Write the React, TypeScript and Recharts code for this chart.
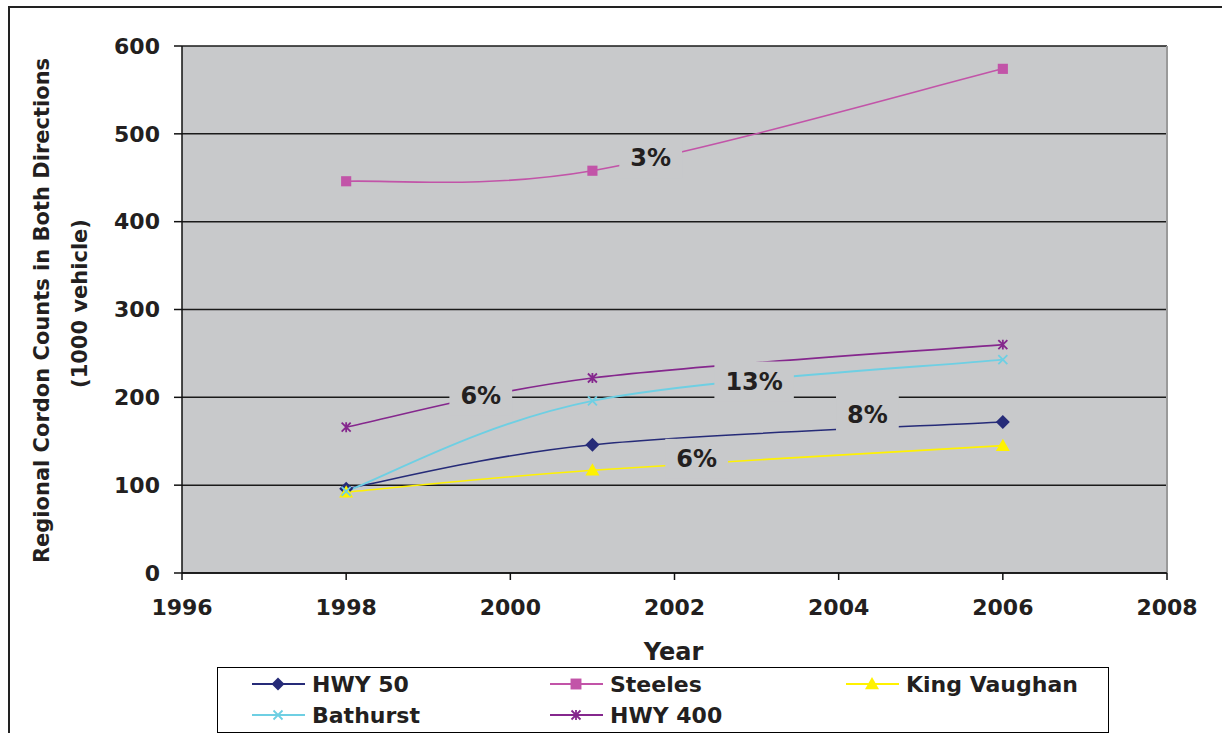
import { LineChart, Line, XAxis, YAxis, CartesianGrid, ReferenceDot, ReferenceLine, Label } from 'recharts'

const years = [1998, 2001, 2006]
const hwy50 = [96, 146, 172]
const steeles = [446, 458, 574]
const kingVaughan = [92, 117, 145]
const bathurst = [93, 196, 243]
const hwy400 = [166, 222, 260]

const xTicks = [1996, 1998, 2000, 2002, 2004, 2006, 2008]
const yTicks = [0, 100, 200, 300, 400, 500, 600]

// growth annotations, placed in data coordinates
const growthText = ['3%', '6%', '13%', '8%', '6%']
const growthYear = [2001.71, 1999.64, 2002.97, 2004.35, 2002.27]
const growthCount = [472, 202, 218, 180, 130]

const data = years.map((year, i) => ({
  year,
  hwy50: hwy50[i],
  steeles: steeles[i],
  kingVaughan: kingVaughan[i],
  bathurst: bathurst[i],
  hwy400: hwy400[i],
}))

type MarkerKind = 'diamond' | 'square' | 'triangle' | 'cross' | 'star'

const series: { key: string; name: string; color: string; marker: MarkerKind }[] = [
  { key: 'hwy50', name: 'HWY 50', color: '#262B78', marker: 'diamond' },
  { key: 'steeles', name: 'Steeles', color: '#C254A8', marker: 'square' },
  { key: 'kingVaughan', name: 'King Vaughan', color: '#FFF200', marker: 'triangle' },
  { key: 'bathurst', name: 'Bathurst', color: '#6ECFE3', marker: 'cross' },
  { key: 'hwy400', name: 'HWY 400', color: '#85278D', marker: 'star' },
]

const PLOT_BG = '#C8C9CB'
const INK = '#231F20'
const FONT = '"DejaVu Sans", Arial, sans-serif'

// spreadsheet-style smoothed line (Catmull-Rom bezier)
function smoothCurve(context: any) {
  let pts: number[][] = []
  return {
    areaStart() {},
    areaEnd() {},
    lineStart() {
      pts = []
    },
    point(x: number, y: number) {
      pts.push([+x, +y])
    },
    lineEnd() {
      const n = pts.length
      if (!n) return
      context.moveTo(pts[0][0], pts[0][1])
      for (let i = 0; i < n - 1; i++) {
        const p0 = pts[Math.max(i - 1, 0)]
        const p1 = pts[i]
        const p2 = pts[i + 1]
        const p3 = pts[Math.min(i + 2, n - 1)]
        context.bezierCurveTo(
          p1[0] + (p2[0] - p0[0]) / 6,
          p1[1] + (p2[1] - p0[1]) / 6,
          p2[0] - (p3[0] - p1[0]) / 6,
          p2[1] - (p3[1] - p1[1]) / 6,
          p2[0],
          p2[1],
        )
      }
    },
  }
}

function Marker({ kind, cx, cy, color, s }: { kind: MarkerKind; cx: number; cy: number; color: string; s: number }) {
  if (kind === 'diamond')
    return <polygon points={`${cx},${cy - s} ${cx + s},${cy} ${cx},${cy + s} ${cx - s},${cy}`} fill={color} />
  if (kind === 'square')
    return <rect x={cx - s * 0.78} y={cy - s * 0.78} width={s * 1.56} height={s * 1.56} fill={color} />
  if (kind === 'triangle')
    return <polygon points={`${cx},${cy - s} ${cx + s},${cy + s * 0.75} ${cx - s},${cy + s * 0.75}`} fill={color} />
  const x = `M${cx - s},${cy - s}L${cx + s},${cy + s}M${cx + s},${cy - s}L${cx - s},${cy + s}`
  if (kind === 'cross') return <path d={x} stroke={color} strokeWidth={1.8} fill="none" />
  return <path d={`${x}M${cx},${cy - s * 1.1}L${cx},${cy + s * 1.1}`} stroke={color} strokeWidth={1.8} fill="none" />
}

function YTitle(props: any) {
  const vb = props.viewBox
  const cy = vb.y + vb.height / 2
  return (
    <g fontFamily={FONT} fontWeight="bold" fill={INK} fontSize={21}>
      <text x={42} y={cy + 1} textAnchor="middle" dominantBaseline="central" transform={`rotate(-90, 42, ${cy + 1})`}>
        Regional Cordon Counts in Both Directions
      </text>
      <text x={80} y={cy - 6} textAnchor="middle" dominantBaseline="central" transform={`rotate(-90, 80, ${cy - 6})`}>
        (1000 vehicle)
      </text>
    </g>
  )
}

function XTitle(props: any) {
  const vb = props.viewBox
  return (
    <text x={vb.x + vb.width / 2 - 1} y={vb.y + 87} textAnchor="middle" fontFamily={FONT} fontWeight="bold" fontSize={24} fill={INK}>
      Year
    </text>
  )
}

function GrowthBox({ cx, cy, text }: { cx: number; cy: number; text: string }) {
  const fs = 24
  const w = fs * (0.696 * (text.length - 1) + 1.002) + 22
  const h = 40
  return (
    <g>
      <rect x={cx - w / 2} y={cy - h / 2} width={w} height={h} fill={PLOT_BG} />
      <text x={cx} y={cy} textAnchor="middle" dominantBaseline="central" fontFamily={FONT} fontWeight="bold" fontSize={fs} fill={INK}>
        {text}
      </text>
    </g>
  )
}

const legendCols = [35, 333, 629]
const legendRows = [17, 48]
const legendSizes: Record<MarkerKind, number> = { diamond: 6.5, square: 7, triangle: 7, cross: 4.5, star: 4.5 }

function LegendBox() {
  return (
    <div
      style={{
        position: 'absolute',
        left: 217,
        top: 667,
        width: 892,
        height: 66,
        border: '1.5px solid #000',
        boxSizing: 'border-box',
        background: '#fff',
      }}
    >
      <svg width={892} height={66} style={{ position: 'absolute', left: -1.5, top: -1.5 }}>
        {series.map((s, i) => {
          const x = legendCols[i % 3]
          const y = legendRows[Math.floor(i / 3)]
          return (
            <g key={s.key}>
              <line x1={x} x2={x + 53} y1={y} y2={y} stroke={s.color} strokeWidth={2} />
              <Marker kind={s.marker} cx={x + 26} cy={y} color={s.color} s={legendSizes[s.marker]} />
              <text x={x + 60} y={y} dominantBaseline="central" fontFamily={FONT} fontWeight="bold" fontSize={22} fill={INK}>
                {s.name}
              </text>
            </g>
          )
        })}
      </svg>
    </div>
  )
}

const dotSizes: Record<MarkerKind, number> = { diamond: 7, square: 6.5, triangle: 7, cross: 4.5, star: 4.5 }

export default function App() {
  return (
    <div style={{ position: 'absolute', left: 0, top: 0, width: 1222, height: 733, background: '#fff', overflow: 'hidden' }}>
      <div
        style={{
          position: 'absolute',
          left: 8,
          top: 6,
          width: 1240,
          height: 760,
          borderTop: '2px solid #222',
          borderLeft: '2px solid #222',
        }}
      />
      <div style={{ position: 'absolute', left: 0, top: 0 }}>
        <LineChart width={1222} height={733} data={data} margin={{ top: 46, right: 55, bottom: 120, left: 0 }}>
          <CartesianGrid vertical={false} stroke="#1a1a1a" strokeWidth={1.5} fill={PLOT_BG} fillOpacity={1} />
          <XAxis
            dataKey="year"
            type="number"
            domain={[1996, 2008]}
            ticks={xTicks}
            interval={0}
            height={40}
            axisLine={{ stroke: '#111', strokeWidth: 1.5 }}
            tickLine={{ stroke: '#111', strokeWidth: 1.5 }}
            tickSize={7}
            tickMargin={19}
            tick={{ fontFamily: FONT, fontWeight: 'bold', fontSize: 22, fill: INK }}
          >
            <Label content={XTitle} />
          </XAxis>
          <YAxis
            type="number"
            domain={[0, 600]}
            ticks={yTicks}
            interval={0}
            width={182}
            axisLine={{ stroke: '#111', strokeWidth: 1.5 }}
            tickLine={{ stroke: '#111', strokeWidth: 1.5 }}
            tickSize={8}
            tickMargin={14}
            tick={{ fontFamily: FONT, fontWeight: 'bold', fontSize: 22, fill: INK }}
          >
            <Label content={YTitle} />
          </YAxis>
          <ReferenceLine x={2008} stroke="#9A9A9A" strokeWidth={2} />
          {series.map((s) => (
            <Line
              key={s.key}
              dataKey={s.key}
              name={s.name}
              type={smoothCurve as any}
              stroke={s.color}
              strokeWidth={s.key === 'bathurst' ? 1.8 : 1.6}
              isAnimationActive={false}
              activeDot={false}
              dot={(p: any) => (
                <Marker key={`${s.key}-${p.index}`} kind={s.marker} cx={p.cx} cy={p.cy} color={s.color} s={dotSizes[s.marker]} />
              )}
            />
          ))}
          {growthText.map((t, i) => (
            <ReferenceDot
              key={`g-${i}`}
              x={growthYear[i]}
              y={growthCount[i]}
              ifOverflow="visible"
              shape={(p: any) => <GrowthBox cx={p.cx} cy={p.cy} text={t} />}
            />
          ))}
        </LineChart>
      </div>
      <LegendBox />
    </div>
  )
}
